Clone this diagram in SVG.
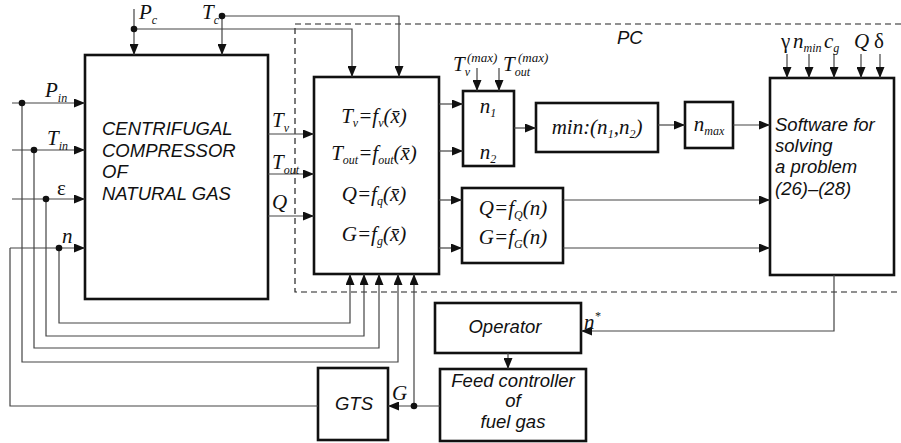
<svg xmlns="http://www.w3.org/2000/svg" width="901" height="443" viewBox="0 0 901 443">
<style>
.box{fill:#fff;stroke:#111;stroke-width:2.6}
.ln{fill:none;stroke:#444;stroke-width:1.2}
.arr{marker-end:url(#ah)}
.dash{fill:none;stroke:#222;stroke-width:1.2;stroke-dasharray:6,4}
.s{font-family:"Liberation Sans",Arial,sans-serif;font-style:italic;font-size:18.5px;fill:#111}
.m{font-family:"Liberation Serif","Times New Roman",serif;font-style:italic;font-size:21px;fill:#111}
.g{font-style:normal}
.sub{font-size:12px}
.dot{fill:#111}
</style>
<defs>
<marker id="ah" markerUnits="userSpaceOnUse" markerWidth="11" markerHeight="9" refX="11" refY="4.5" orient="auto">
<path d="M0,0 L11,4.5 L0,9 z" fill="#111"/>
</marker>
</defs>

<path class="dash" d="M901,24 H295 V292 H901"/>
<text class="s" x="617" y="44">PC</text>

<g id="compressor">
<rect class="box" x="85" y="55" width="183" height="244"/>
<text class="s" x="102" y="135">CENTRIFUGAL</text>
<text class="s" x="102" y="156.5">COMPRESSOR</text>
<text class="s" x="102" y="178">OF</text>
<text class="s" x="102" y="199.5">NATURAL GAS</text>
</g>

<g id="models">
<rect class="box" x="314" y="77" width="125" height="197"/>
<text class="m" x="374" y="123" text-anchor="middle">T<tspan class="sub" dy="4">v</tspan><tspan dy="-4">=f</tspan><tspan class="sub" dy="4">v</tspan><tspan dy="-4">(x̄)</tspan></text>
<text class="m" x="374" y="160" text-anchor="middle">T<tspan class="sub" dy="4">out</tspan><tspan dy="-4">=f</tspan><tspan class="sub" dy="4">out</tspan><tspan dy="-4">(x̄)</tspan></text>
<text class="m" x="374" y="201" text-anchor="middle">Q=f<tspan class="sub" dy="4">q</tspan><tspan dy="-4">(x̄)</tspan></text>
<text class="m" x="374" y="241" text-anchor="middle">G=f<tspan class="sub" dy="4">g</tspan><tspan dy="-4">(x̄)</tspan></text>
</g>

<g id="n12">
<rect class="box" x="463" y="91" width="51" height="75"/>
<text class="m" x="488" y="113" text-anchor="middle">n<tspan class="sub" dy="4">1</tspan></text>
<text class="m" x="488" y="159" text-anchor="middle">n<tspan class="sub" dy="4">2</tspan></text>
</g>

<g id="minbox">
<rect class="box" x="536" y="103" width="122" height="49"/>
<text class="m" x="597" y="134" text-anchor="middle">min:(n<tspan class="sub" dy="4">1</tspan><tspan dy="-4">,n</tspan><tspan class="sub" dy="4">2</tspan><tspan dy="-4">)</tspan></text>
</g>

<g id="nmax">
<rect class="box" x="685" y="102" width="48" height="46"/>
<text class="m" x="709" y="131" text-anchor="middle">n<tspan class="sub" dy="4">max</tspan></text>
</g>

<g id="qg">
<rect class="box" x="462" y="188" width="101" height="75"/>
<text class="m" x="513" y="215" text-anchor="middle">Q=f<tspan class="sub" dy="4">Q</tspan><tspan dy="-4">(n)</tspan></text>
<text class="m" x="513" y="244" text-anchor="middle">G=f<tspan class="sub" dy="4">G</tspan><tspan dy="-4">(n)</tspan></text>
</g>

<g id="software">
<rect class="box" x="770" y="78" width="124" height="197"/>
<text class="s" x="775" y="131">Software for</text>
<text class="s" x="775" y="152">solving</text>
<text class="s" x="775" y="173">a problem</text>
<text class="s" x="775" y="195">(26)–(28)</text>
</g>

<g id="operator">
<rect class="box" x="435" y="303" width="146" height="50"/>
<text class="s" x="505" y="333" text-anchor="middle">Operator</text>
</g>

<g id="feed">
<rect class="box" x="440" y="369" width="146" height="72"/>
<text class="s" x="513" y="387" text-anchor="middle">Feed controller</text>
<text class="s" x="513" y="407" text-anchor="middle">of</text>
<text class="s" x="513" y="428" text-anchor="middle">fuel gas</text>
</g>

<g id="gts">
<rect class="box" x="318" y="368" width="70" height="72"/>
<text class="s" x="354" y="410" text-anchor="middle">GTS</text>
</g>

<g id="connectors">
<path class="ln arr" d="M134,9 V55"/>
<path class="ln arr" d="M134,29 H352 V77"/>
<path class="ln arr" d="M222,16 V55"/>
<path class="ln arr" d="M222,16 H399 V77"/>
<path class="ln arr" d="M12,103 H85"/>
<path class="ln arr" d="M12,150 H85"/>
<path class="ln arr" d="M12,199 H85"/>
<path class="ln arr" d="M10,248 H85"/>
<path class="ln arr" d="M59,248 V323 H350 V274"/>
<path class="ln arr" d="M46,199 V336 H364 V274"/>
<path class="ln arr" d="M34,150 V348 H379 V274"/>
<path class="ln arr" d="M22,103 V362 H398 V274"/>
<path class="ln" d="M318,406 H10 V248"/>
<path class="ln arr" d="M268,134 H314"/>
<path class="ln arr" d="M268,174 H314"/>
<path class="ln arr" d="M268,216 H314"/>
<path class="ln arr" d="M439,104 H463"/>
<path class="ln arr" d="M439,151 H463"/>
<path class="ln arr" d="M477,68 V91"/>
<path class="ln arr" d="M499,68 V91"/>
<path class="ln arr" d="M514,128 H536"/>
<path class="ln arr" d="M658,125 H685"/>
<path class="ln arr" d="M733,125 H770"/>
<path class="ln arr" d="M439,200 H462"/>
<path class="ln arr" d="M439,248 H462"/>
<path class="ln arr" d="M563,200 H770"/>
<path class="ln arr" d="M563,248 H770"/>
<path class="ln arr" d="M787,54 V78"/>
<path class="ln arr" d="M809,54 V78"/>
<path class="ln arr" d="M834,54 V78"/>
<path class="ln arr" d="M861,54 V78"/>
<path class="ln arr" d="M880,54 V78"/>
<path class="ln arr" d="M834,275 V331 H581"/>
<path class="ln arr" d="M508,353 V369"/>
<path class="ln arr" d="M440,406 H388"/>
<path class="ln arr" d="M414,406 V274"/>
<circle class="dot" cx="134" cy="29" r="3.3"/>
<circle class="dot" cx="222" cy="16" r="3.3"/>
<circle class="dot" cx="22" cy="103" r="3.3"/>
<circle class="dot" cx="34" cy="150" r="3.3"/>
<circle class="dot" cx="46" cy="199" r="3.3"/>
<circle class="dot" cx="59" cy="248" r="3.3"/>
<circle class="dot" cx="414" cy="406" r="3.3"/>
</g>

<g id="labels">
<text class="m" x="139" y="19">P<tspan class="sub" dy="5">c</tspan></text>
<text class="m" x="202" y="19">T<tspan class="sub" dy="5">c</tspan></text>
<text class="m" x="45" y="97">P<tspan class="sub" dy="5">in</tspan></text>
<text class="m" x="47" y="145">T<tspan class="sub" dy="5">in</tspan></text>
<text class="m g" x="57" y="195">ε</text>
<text class="m" x="62" y="243">n</text>
<text class="m" x="272" y="127">T<tspan class="sub" dy="5">v</tspan></text>
<text class="m" x="272" y="169">T<tspan class="sub" dy="5">out</tspan></text>
<text class="m" x="272" y="209">Q</text>
<text class="m" x="453" y="71">T<tspan class="sub" dy="5">v</tspan></text>
<text class="m" x="467" y="62" style="font-size:13px">(max)</text>
<text class="m" x="503" y="71">T<tspan class="sub" dy="5">out</tspan></text>
<text class="m" x="518" y="62" style="font-size:13px">(max)</text>
<text class="m g" x="781" y="48">γ</text>
<text class="m" x="793" y="48">n<tspan class="sub" dy="4">min</tspan></text>
<text class="m" x="824" y="48">c<tspan class="sub" dy="4">g</tspan></text>
<text class="m" x="854" y="48">Q</text>
<text class="m g" x="874" y="48">δ</text>
<text class="m" x="584" y="329">n<tspan class="sub" dy="-9">*</tspan></text>
<text class="m" x="392" y="400">G</text>
</g>
</svg>
